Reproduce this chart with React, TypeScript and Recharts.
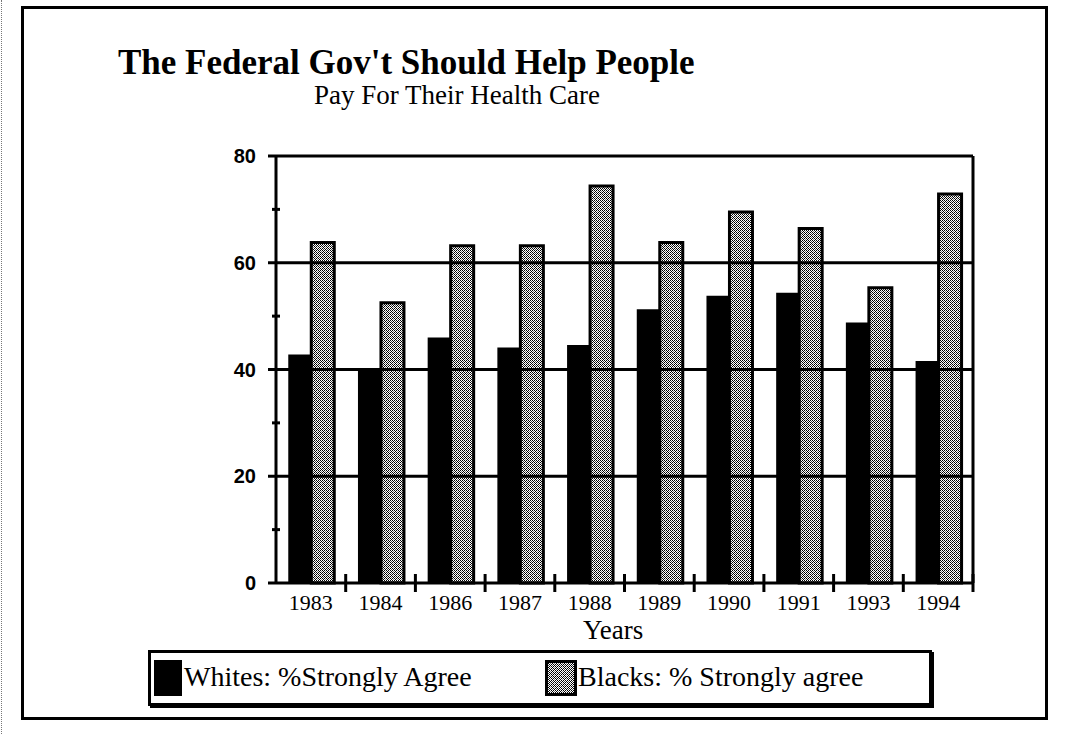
import React from 'react';
import { BarChart, Bar, XAxis, YAxis, CartesianGrid, ReferenceLine } from 'recharts';

const YEARS = ['1983', '1984', '1986', '1987', '1988', '1989', '1990', '1991', '1993', '1994'];
const WHITES = [42.8, 40.3, 46.0, 44.1, 44.6, 51.3, 53.8, 54.4, 48.8, 41.6];
const BLACKS = [63.8, 52.5, 63.2, 63.2, 74.4, 63.8, 69.5, 66.4, 55.3, 72.9];
const Y_TICKS = [0, 10, 20, 30, 40, 50, 60, 70, 80];
const GRID_VALUES = [20, 40, 60, 80];

const W = 1071;
const H = 734;
const PLOT_LEFT = 276;
const PLOT_RIGHT = 973;
const PLOT_TOP = 156;
const PLOT_BOTTOM = 583;
const Y_AXIS_W = 60;
const X_AXIS_H = 30;
const Y_TICK_MARGIN = 20;
const X_TICK_MARGIN = 11;
const BAND = (PLOT_RIGHT - PLOT_LEFT) / YEARS.length;

const serif = '"Liberation Serif", "Times New Roman", serif';
const sans = '"Liberation Sans", Arial, sans-serif';

const data = YEARS.map((year, i) => ({ year, whites: WHITES[i], blacks: BLACKS[i] }));

const YTick = (props: any) => {
  const { x, y, payload } = props;
  const axisX = x + Y_TICK_MARGIN;
  const major = payload.value % 20 === 0;
  return (
    <g>
      {major ? (
        <>
          <line x1={axisX - 8} x2={axisX} y1={y} y2={y} stroke="#000" strokeWidth={3} />
          <text x={x} y={y} dy="0.36em" textAnchor="end" fontFamily={sans} fontWeight="bold" fontSize={20} fill="#000">
            {payload.value}
          </text>
        </>
      ) : (
        <line x1={axisX - 4} x2={axisX + 4} y1={y} y2={y} stroke="#000" strokeWidth={3} />
      )}
    </g>
  );
};

const XTick = (props: any) => {
  const { x, y, payload } = props;
  const axisY = y - X_TICK_MARGIN;
  const bx = x + BAND / 2;
  return (
    <g>
      <line x1={bx} x2={bx} y1={axisY - 9} y2={axisY + 9} stroke="#000" strokeWidth={3} />
      <text x={x} y={y} dy="0.71em" textAnchor="middle" fontFamily={serif} fontSize={22} fill="#000">
        {payload.value}
      </text>
    </g>
  );
};

const Pattern = ({ id }: { id: string }) => (
  <pattern id={id} width={4} height={4} patternUnits="userSpaceOnUse">
    <rect width={4} height={4} fill="#fff" />
    <rect x={0} y={0} width={1} height={1} fill="#000" />
    <rect x={1} y={1} width={1} height={1} fill="#000" />
    <rect x={2} y={2} width={1} height={1} fill="#000" />
    <rect x={3} y={3} width={1} height={1} fill="#000" />
    <rect x={2} y={0} width={1} height={1} fill="#000" />
    <rect x={0} y={2} width={1} height={1} fill="#000" />
    <rect x={3} y={1} width={1} height={1} fill="#444" />
    <rect x={1} y={3} width={1} height={1} fill="#777" />
  </pattern>
);

export default function App() {
  return (
    <div style={{ position: 'relative', width: W, height: H, background: '#fff', fontFamily: serif, overflow: 'hidden' }}>
      <style>{`body{margin:0}`}</style>

      {/* frame */}
      <div style={{ position: 'absolute', left: 1, top: 0, width: 0, height: H, borderLeft: '1px dotted #777' }} />
      <div style={{ position: 'absolute', left: 21, top: 6, width: 1048 - 21, height: 720 - 6, border: '3px solid #000', boxSizing: 'border-box' }} />

      <div style={{ position: 'absolute', left: 118, top: 45, fontSize: 35, fontWeight: 'bold', lineHeight: '36px', whiteSpace: 'nowrap' }}>
        The Federal Gov't Should Help People
      </div>
      <div style={{ position: 'absolute', left: 314, top: 82, fontSize: 27, lineHeight: '27px', whiteSpace: 'nowrap' }}>
        Pay For Their Health Care
      </div>

      <div style={{ position: 'absolute', left: 0, top: 0 }}>
        <BarChart
          width={W}
          height={H}
          data={data}
          margin={{ top: PLOT_TOP, right: W - PLOT_RIGHT, bottom: H - PLOT_BOTTOM - X_AXIS_H, left: PLOT_LEFT - Y_AXIS_W }}
          barGap={0}
          barCategoryGap="17.6%"
        >
          <defs>
            <Pattern id="blackPat" />
          </defs>
          <CartesianGrid horizontal={false} vertical verticalPoints={[PLOT_RIGHT]} stroke="#000" strokeWidth={3} />
          {GRID_VALUES.map(v => (
            <ReferenceLine key={v} y={v} stroke="#000" strokeWidth={3} />
          ))}
          <XAxis
            dataKey="year"
            height={X_AXIS_H}
            interval={0}
            tickSize={0}
            tickMargin={X_TICK_MARGIN}
            tick={<XTick />}
            axisLine={{ stroke: '#000', strokeWidth: 3 }}
          />
          <YAxis
            width={Y_AXIS_W}
            domain={[0, 80]}
            ticks={Y_TICKS}
            interval={0}
            tickSize={0}
            tickMargin={Y_TICK_MARGIN}
            tick={<YTick />}
            axisLine={{ stroke: '#000', strokeWidth: 3 }}
          />
          <Bar dataKey="whites" fill="#000" isAnimationActive={false} />
          <Bar dataKey="blacks" fill="url(#blackPat)" stroke="#000" strokeWidth={3} isAnimationActive={false} />
        </BarChart>
      </div>

      <div style={{ position: 'absolute', left: 583, top: 617, fontSize: 27, lineHeight: '27px' }}>Years</div>

      {/* legend */}
      <div
        style={{
          position: 'absolute',
          left: 148,
          top: 650,
          width: 932 - 148,
          height: 706 - 650,
          border: '3px solid #000',
          boxShadow: '2px 2px 0 #000',
          boxSizing: 'border-box',
          background: '#fff',
        }}
      >
        <div style={{ position: 'absolute', left: 3, top: 7, width: 28, height: 36, background: '#000' }} />
        <div style={{ position: 'absolute', left: 33, top: 9, fontSize: 28, lineHeight: '30px', whiteSpace: 'nowrap' }}>
          Whites: %Strongly Agree
        </div>
        <svg style={{ position: 'absolute', left: 394, top: 7 }} width={32} height={36}>
          <defs>
            <Pattern id="legendPat" />
          </defs>
          <rect x={1.5} y={1.5} width={29} height={33} fill="url(#legendPat)" stroke="#000" strokeWidth={3} />
        </svg>
        <div style={{ position: 'absolute', left: 427, top: 9, fontSize: 28, lineHeight: '30px', whiteSpace: 'nowrap' }}>
          Blacks: % Strongly agree
        </div>
      </div>
    </div>
  );
}
